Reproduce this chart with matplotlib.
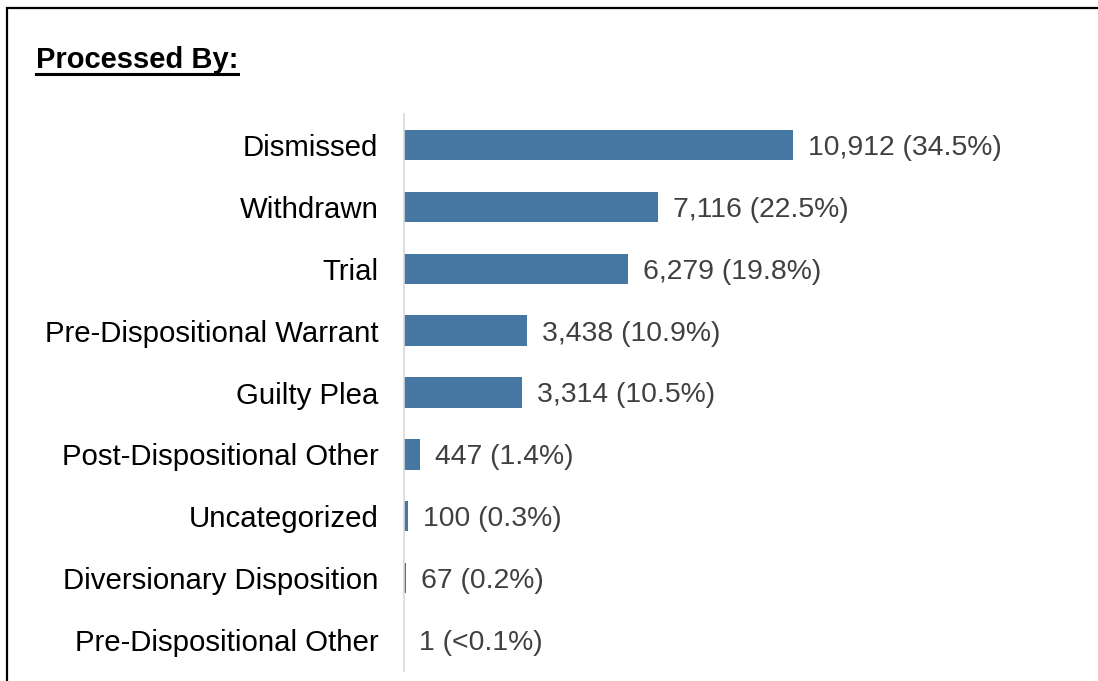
import matplotlib
matplotlib.use('Agg')
import matplotlib.pyplot as plt
from matplotlib.patches import Rectangle
from matplotlib.lines import Line2D

plt.rcParams['font.family'] = ['Liberation Sans', 'DejaVu Sans']

categorias = ['Dismissed', 'Withdrawn', 'Trial', 'Pre-Dispositional Warrant', 'Guilty Plea',
              'Post-Dispositional Other', 'Uncategorized', 'Diversionary Disposition',
              'Pre-Dispositional Other']
valores = [10912, 7116, 6279, 3438, 3314, 447, 100, 67, 1]
rotulos = ['10,912 (34.5%)', '7,116 (22.5%)', '6,279 (19.8%)', '3,438 (10.9%)', '3,314 (10.5%)',
           '447 (1.4%)', '100 (0.3%)', '67 (0.2%)', '1 (<0.1%)']

W, H = 1098, 681
fig = plt.figure(figsize=(W / 100, H / 100), dpi=100)
ax = fig.add_axes([404 / W, 10 / H, (1060 - 404) / W, (671 - 10 - 104) / H])

y = list(range(len(categorias)))
ax.barh(y, valores, height=0.49, color='#4677a3')
for yi, v, r in zip(y, valores, rotulos):
    ax.annotate(r, (v, yi), xytext=(15, 0), textcoords='offset pixels',
                va='center_baseline', ha='left', fontsize=20.4, color='#404040')

ax.set_ylim(len(categorias) - 0.5, -0.5)
ax.set_xlim(0, 656 / (389 / 10912))
ax.set_yticks(y)
ax.set_yticklabels(categorias, fontsize=21.2, color='black', va='center_baseline')
ax.tick_params(axis='y', length=0, pad=18.5)
ax.set_xticks([])
for s in ['top', 'right', 'bottom']:
    ax.spines[s].set_visible(False)
ax.spines['left'].set_color('#d9d9d9')
ax.spines['left'].set_linewidth(1.2)

# titulo sublinhado
t = fig.text(36 / W, 1 - 68 / H, 'Processed By:', fontsize=21.0, fontweight='bold',
             ha='left', va='baseline')
fig.canvas.draw()
bb = t.get_window_extent(renderer=fig.canvas.get_renderer())
uy = 1 - 74 / H
fig.add_artist(Line2D([bb.x0 / W, bb.x1 / W], [uy, uy], color='black', lw=2.2,
                      transform=fig.transFigure))

# moldura
fig.add_artist(Rectangle((7 / W, -0.1), 1.2, 1.1 - 8 / H, fill=False, edgecolor='black',
                         lw=1.6, transform=fig.transFigure))

fig.savefig('out.png', dpi=100)
